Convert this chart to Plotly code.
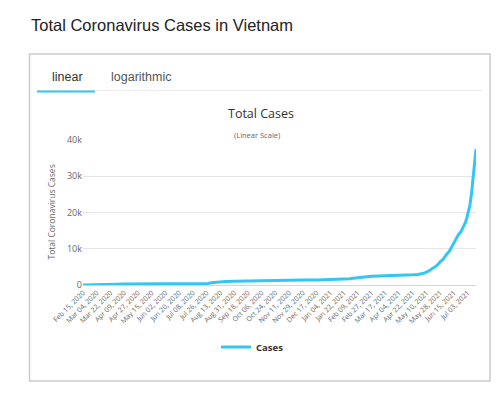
import plotly.graph_objects as go

# The page body has an 8px default margin, so the figure is sized to fit
OFF = 8
W, H = 500 - OFF, 399 - OFF

dates = [
    "2020-02-15", "2020-03-05", "2020-03-10", "2020-03-15", "2020-03-20", "2020-03-25",
    "2020-03-31", "2020-04-09", "2020-04-27", "2020-05-15", "2020-06-02", "2020-06-20",
    "2020-07-08", "2020-07-24", "2020-07-28", "2020-08-01", "2020-08-05", "2020-08-10",
    "2020-08-15", "2020-08-20", "2020-08-31", "2020-09-18", "2020-10-06", "2020-10-24",
    "2020-11-11", "2020-11-29", "2020-12-17", "2021-01-04", "2021-01-27", "2021-01-30",
    "2021-02-03", "2021-02-09", "2021-02-17", "2021-02-27", "2021-03-17", "2021-04-04",
    "2021-04-22", "2021-04-29", "2021-05-04", "2021-05-08", "2021-05-12", "2021-05-16",
    "2021-05-20", "2021-05-24", "2021-05-28", "2021-06-01", "2021-06-05", "2021-06-09",
    "2021-06-12", "2021-06-15", "2021-06-18", "2021-06-21", "2021-06-24", "2021-06-27",
    "2021-06-30", "2021-07-02", "2021-07-04", "2021-07-06", "2021-07-08", "2021-07-10",
    "2021-07-12", "2021-07-14",
]
cases = [
    16, 16, 31, 56, 87, 141,
    212, 251, 270, 314, 328, 349,
    369, 413, 446, 590, 717, 847,
    964, 994, 1044, 1068, 1095, 1168,
    1226, 1347, 1410, 1504, 1551, 1737,
    1882, 2050, 2362, 2432, 2560, 2603,
    2809, 2928, 3137, 3332, 3733, 4212,
    4809, 5404, 6396, 7107, 8364, 9300,
    10410, 11635, 12717, 13900, 14600, 15800,
    17200, 18500, 20000, 22000, 25000, 29000,
    33500, 37500,
]

y_ticks = [0, 10000, 20000, 30000, 40000]
y_tick_text = ["0", "10k", "20k", "30k", "40k"]

page_title = "Total Coronavirus Cases in Vietnam"
tab_labels = ["linear", "logarithmic"]
chart_title = "Total Cases"
chart_subtitle = "(Linear Scale)"
y_title = "Total Coronavirus Cases"
series_name = "Cases"

LINE = "#33c6f4"


def px(x):
    return (x - OFF) / W


def py(y):
    return 1 - (y - OFF) / H


fig = go.Figure()
fig.add_trace(go.Scatter(
    x=dates, y=cases, mode="lines", name="<b>" + series_name + "</b>",
    line=dict(color=LINE, width=3),
))

plot_l, plot_r, plot_t, plot_b = 83, 476, 140, 285

fig.update_layout(
    width=W, height=H,
    margin=dict(l=0, r=0, t=0, b=0),
    paper_bgcolor="white", plot_bgcolor="white",
    font=dict(family="Open Sans", color="#666666"),
    xaxis=dict(
        domain=[px(plot_l), px(plot_r)],
        type="date",
        range=["2020-02-15", "2021-07-14"],
        tick0="2020-02-15", dtick=18 * 86400000,
        tickformat="%b %d, %Y", tickangle=-45,
        tickfont=dict(size=7, color="#666666", family="Open Sans"),
        showgrid=False, showline=True, linecolor="#ccd6eb", linewidth=1,
        ticks="", automargin=False, fixedrange=True,
    ),
    yaxis=dict(
        domain=[py(plot_b), py(plot_t)],
        range=[0, 40000],
        tickvals=y_ticks, ticktext=y_tick_text,
        tickfont=dict(size=9, color="#666666", family="Open Sans"),
        showgrid=True, gridcolor="#e6e6e6", gridwidth=1,
        zeroline=False, ticks="", ticklen=0,
        automargin=False, fixedrange=True,
    ),
    showlegend=True,
    legend=dict(
        orientation="h", x=px(216), y=py(347), xanchor="left", yanchor="middle",
        font=dict(size=9.5, color="#333333", family="Open Sans"),
        bgcolor="rgba(0,0,0,0)", itemwidth=30,
    ),
)

shapes = [
    # card border
    dict(type="rect", xref="paper", yref="paper",
         x0=px(29.5), x1=px(490), y0=py(381), y1=py(54),
         line=dict(color="#cccccc", width=1.5), fillcolor="rgba(0,0,0,0)", layer="below"),
    # tab divider
    dict(type="line", xref="paper", yref="paper",
         x0=px(37), x1=px(483), y0=py(90.5), y1=py(90.5),
         line=dict(color="#eeeeee", width=1)),
    # active tab underline
    dict(type="line", xref="paper", yref="paper",
         x0=px(37), x1=px(95), y0=py(91.5), y1=py(91.5),
         line=dict(color=LINE, width=2)),
]
fig.update_layout(shapes=shapes)

annotations = [
    dict(text=page_title, x=px(29), y=py(25), xanchor="left", yanchor="middle",
         font=dict(size=16.5, color="#222222", family="Liberation Sans")),
    dict(text=tab_labels[0], x=px(67.5), y=py(77), xanchor="center", yanchor="middle",
         font=dict(size=12.5, color="#333333", family="Liberation Sans")),
    dict(text=tab_labels[1], x=px(141), y=py(77), xanchor="center", yanchor="middle",
         font=dict(size=12.5, color="#555555", family="Liberation Sans")),
    dict(text=chart_title, x=px(260.5), y=py(113), xanchor="center", yanchor="middle",
         font=dict(size=12.5, color="#333333", family="Open Sans")),
    dict(text=chart_subtitle, x=px(257.5), y=py(135), xanchor="center", yanchor="middle",
         font=dict(size=7.5, color="#666666", family="Open Sans")),
    dict(text=y_title, x=px(50.5), y=py(212), xanchor="center", yanchor="middle",
         textangle=-90, font=dict(size=8.5, color="#666666", family="Open Sans")),
]
for a in annotations:
    a.update(xref="paper", yref="paper", showarrow=False)
fig.update_layout(annotations=annotations)

fig.write_html("out.html")
